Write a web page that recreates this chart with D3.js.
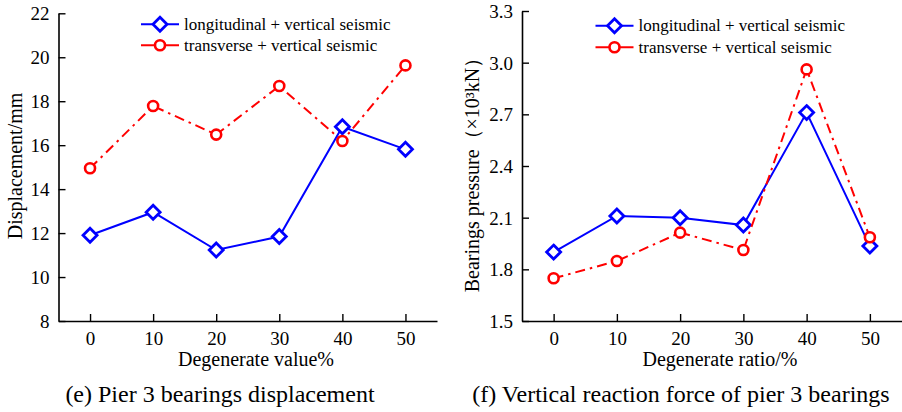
<!DOCTYPE html>
<html>
<head>
<meta charset="utf-8">
<script src="https://cdn.jsdelivr.net/npm/d3@7/dist/d3.min.js"></script>
<style>
  html, body { margin: 0; padding: 0; background: #fff; }
  svg { display: block; }
  svg text { font-family: "Liberation Serif", "Times New Roman", "DejaVu Serif", serif; fill: #000; }
</style>
</head>
<body>
<svg id="chart" width="902" height="412"></svg>
<script>
// Degeneration levels (%) shared by both panels
const degenerate = [0, 10, 20, 30, 40, 50];
const xTicks = [0, 10, 20, 30, 40, 50];

// Panel (e): bearing displacement, mm
const dispLongitudinal = [11.9, 12.95, 11.23, 11.84, 16.84, 15.81];
const dispTransverse   = [14.95, 17.78, 16.48, 18.69, 16.19, 19.63];
const dispTicks = [8, 10, 12, 14, 16, 18, 20, 22];

// Panel (f): bearing vertical reaction, ×10³ kN
const forceLongitudinal = [1.90, 2.11, 2.10, 2.057, 2.71, 1.935];
const forceTransverse   = [1.748, 1.848, 2.013, 1.912, 2.961, 1.986];
const forceTicks = [1.5, 1.8, 2.1, 2.4, 2.7, 3.0, 3.3];

const seriesNames = ["longitudinal + vertical seismic", "transverse + vertical seismic"];

const SERIF = "Liberation Serif, Times New Roman, DejaVu Serif, serif";
const svg = d3.select("#chart");

function drawMarker(g, type, x, y) {
  if (type === "diamond") {
    const s = 7;
    g.append("path")
      .attr("d", `M${x},${y - s}L${x + s},${y}L${x},${y + s}L${x - s},${y}Z`)
      .attr("fill", "#fff").attr("stroke", "#0000ff").attr("stroke-width", 2.8);
  } else {
    g.append("circle").attr("cx", x).attr("cy", y).attr("r", 5)
      .attr("fill", "#fff").attr("stroke", "#ff0000").attr("stroke-width", 2.6);
  }
}

function label(g, txt, size) {
  return g.append("text").attr("font-family", SERIF).style("font-family", SERIF)
    .style("font-size", size + "px").text(txt);
}

function panel(cfg) {
  const g = svg.append("g");
  const x = d3.scaleLinear().domain([-5, 55]).range([cfg.left, cfg.right]);
  const y = d3.scaleLinear().domain(cfg.yDomain).range([cfg.bottom, cfg.top]);

  // Axes with inward ticks
  const xAxis = d3.axisBottom(x).tickValues(xTicks).tickSize(-7).tickPadding(10.5).tickSizeOuter(0);
  const yAxis = d3.axisLeft(y).tickValues(cfg.yTicks).tickSize(-7).tickPadding(9)
    .tickSizeOuter(0).tickFormat(cfg.yFormat);

  const gx = g.append("g").attr("transform", `translate(0,${cfg.bottom})`).call(xAxis);
  const gy = g.append("g").attr("transform", `translate(${cfg.left},0)`).call(yAxis);
  [gx, gy].forEach(a => {
    a.attr("font-family", SERIF);
    a.selectAll("path.domain").attr("stroke", "#000").attr("stroke-width", 1.6);
    a.selectAll(".tick line").attr("stroke", "#000").attr("stroke-width", 1.4);
    a.selectAll(".tick text").attr("font-family", SERIF).style("font-family", SERIF)
      .style("font-size", "19px").attr("fill", "#000");
  });
  gx.selectAll(".tick text").attr("dy", "0.71em");
  gy.selectAll(".tick text").attr("dy", "0.34em");

  // Lines
  const line = d3.line().x((d, i) => x(degenerate[i])).y(d => y(d));
  g.append("path").datum(cfg.seriesA).attr("d", line)
    .attr("fill", "none").attr("stroke", "#0000ff").attr("stroke-width", 2);
  cfg.seriesA.forEach((v, i) => drawMarker(g, "diamond", x(degenerate[i]), y(v)));

  g.append("path").datum(cfg.seriesB).attr("d", line)
    .attr("fill", "none").attr("stroke", "#ff0000").attr("stroke-width", 2)
    .attr("stroke-dasharray", "10,5,2.5,5");
  cfg.seriesB.forEach((v, i) => drawMarker(g, "circle", x(degenerate[i]), y(v)));

  // Legend
  const lg = g.append("g");
  [["diamond", "#0000ff", cfg.legY[0]], ["circle", "#ff0000", cfg.legY[1]]].forEach((row, k) => {
    lg.append("line").attr("x1", cfg.legX).attr("x2", cfg.legX + 38)
      .attr("y1", row[2]).attr("y2", row[2])
      .attr("stroke", row[1]).attr("stroke-width", 2);
    drawMarker(lg, row[0], cfg.legX + 19, row[2]);
    label(lg, seriesNames[k], 17).attr("x", cfg.legX + 43).attr("y", row[2]).attr("dy", "0.33em");
  });

  // Axis titles and caption
  label(g, cfg.xTitle, 20).attr("x", cfg.xTitleX).attr("y", 366).attr("text-anchor", "middle");
  label(g, cfg.yTitle, 20)
    .attr("transform", `translate(${cfg.yTitleX},${cfg.yTitleY}) rotate(-90)`)
    .attr("text-anchor", "middle").attr("dy", "0.33em");
  label(g, cfg.caption, 24).attr("x", cfg.captionX).attr("y", 402).attr("text-anchor", "middle");
}

panel({
  left: 58.5, right: 437, top: 13.3, bottom: 321,
  yDomain: [8, 22], yTicks: dispTicks, yFormat: d3.format("d"),
  seriesA: dispLongitudinal, seriesB: dispTransverse,
  legX: 141, legY: [24.3, 45.3],
  xTitle: "Degenerate value%", xTitleX: 256,
  yTitle: "Displacement/mm", yTitleX: 15, yTitleY: 166,
  caption: "(e) Pier 3 bearings displacement", captionX: 220
});

panel({
  left: 522, right: 901.5, top: 11, bottom: 321,
  yDomain: [1.5, 3.3], yTicks: forceTicks, yFormat: d3.format(".1f"),
  seriesA: forceLongitudinal, seriesB: forceTransverse,
  legX: 595.5, legY: [25.7, 47.3],
  xTitle: "Degenerate ratio/%", xTitleX: 720,
  yTitle: "Bearings pressure（×10³kN）", yTitleX: 472, yTitleY: 170,
  caption: "(f) Vertical reaction force of pier 3 bearings", captionX: 681
});
</script>
</body>
</html>
